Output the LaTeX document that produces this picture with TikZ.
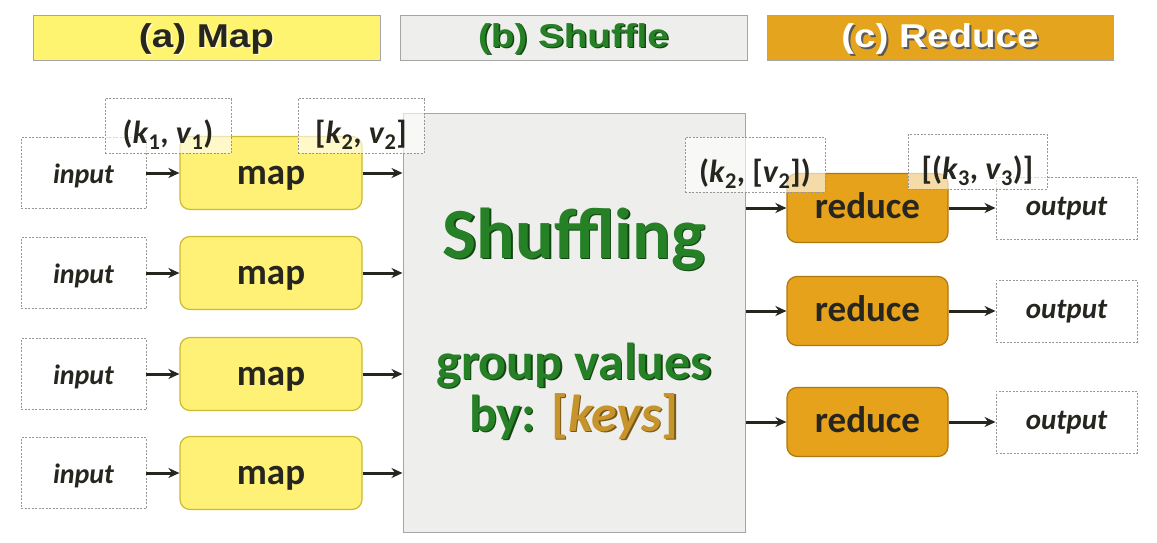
\documentclass[tikz,border=0pt]{standalone}
\usepackage{fontspec}
\setmainfont{Carlito}
\newfontfamily\hdrfont{Liberation Sans}
\usetikzlibrary{arrows.meta}
\definecolor{mapY}{RGB}{255,241,118}
\definecolor{mapB}{RGB}{205,185,50}
\definecolor{hdrY}{RGB}{255,244,112}
\definecolor{redO}{RGB}{230,162,26}
\definecolor{redB}{RGB}{175,120,15}
\definecolor{hdrO}{RGB}{228,164,30}
\definecolor{shufF}{RGB}{238,238,236}
\definecolor{shufB}{RGB}{165,165,165}
\definecolor{grn}{RGB}{38,128,38}
\definecolor{grnD}{RGB}{20,70,20}
\definecolor{gold}{RGB}{198,148,42}
\definecolor{dashB}{RGB}{150,150,150}
\definecolor{txt}{RGB}{38,38,30}
\tikzset{
  hdrbar/.style={draw=shufB, line width=1pt, minimum width=#1, minimum height=45, inner sep=0pt},
  hdrtxt/.style={inner sep=0pt, font=\hdrfont\fontsize{33}{36}\selectfont\bfseries},
  inbox/.style={draw=dashB, dash pattern=on 2pt off 1.5pt, line width=0.9pt, fill=white,
    minimum width=125, minimum height=71, inner sep=0pt, text height=20pt, text depth=0pt,
    font=\fontsize{28}{30}\selectfont\bfseries\itshape, text=txt},
  outbox/.style={inbox, minimum width=141, minimum height=62, text height=14pt,
    font=\fontsize{29}{30}\selectfont\bfseries\itshape},
  mapbox/.style={draw=mapB, fill=mapY, rounded corners=10pt, line width=1.2pt,
    minimum width=182, minimum height=73, inner sep=0pt, text height=23pt, text depth=0pt,
    font=\fontsize{37}{40}\selectfont\bfseries, text=txt},
  redbox/.style={mapbox, draw=redB, fill=redO, minimum width=161, minimum height=69, text height=21pt},
  lbl/.style={draw=dashB, dash pattern=on 2pt off 1.5pt, line width=0.9pt,
    fill=white, fill opacity=0.62, text opacity=1, minimum width=#1, minimum height=55,
    inner sep=0pt, text height=36pt, text depth=0pt,
    font=\fontsize{32}{34}\selectfont\bfseries, text=txt},
  arr/.style={draw=txt, line width=3pt, -{Stealth[length=11pt,width=10pt]}},
  shtxt/.style={inner sep=0pt, anchor=base, font=\fontsize{#1}{#1}\selectfont\bfseries}
}
\begin{document}
\begin{tikzpicture}[x=1pt,y=-1pt]
\useasboundingbox (0,0) rectangle (1157,543);
\fill[white] (0,0) rectangle (1157,543);

% headers
\node[hdrbar=347, fill=hdrY] (ha) at (206.5,38.5) {};
\node[hdrtxt, text=white!80!yellow] (has) at (208,40) {\scalebox{1.17}[1]{(a) Map}};
\node[hdrtxt, text=txt] (hat) at (206.5,38.5) {\scalebox{1.17}[1]{(a) Map}};
\node[hdrbar=347, fill=shufF] (hb) at (573.5,38.5) {};
\node[hdrtxt, text=grnD] (hbs) at (575,40) {\scalebox{1.17}[1]{(b) Shuffle}};
\node[hdrtxt, text=grn] (hbt) at (573.5,38.5) {\scalebox{1.17}[1]{(b) Shuffle}};
\node[hdrbar=346, fill=hdrO] (hc) at (940,38.5) {};
\node[hdrtxt, text=black!65] (hcs) at (942,40.5) {\scalebox{1.17}[1]{(c) Reduce}};
\node[hdrtxt, text=white] (hct) at (940,38.5) {\scalebox{1.17}[1]{(c) Reduce}};

% shuffle box
\node[draw=shufB, fill=shufF, line width=1pt, minimum width=342, minimum height=419, inner sep=0pt] (shuf) at (574,322.5) {};
\node[shtxt=72, text=grnD] (s1s) at (575.5,259.5) {Shuffling};
\node[shtxt=72, text=grn] (s1) at (574,258) {Shuffling};
\node[shtxt=52, text=grnD] (s2s) at (575.5,380.5) {group values};
\node[shtxt=52, text=grn] (s2) at (574,379) {group values};
\node[shtxt=52, text=grnD] (s3s) at (575.5,432.5) {by: \textcolor{gold!60!black}{[\textit{keys}]}};
\node[shtxt=52, text=grn] (s3) at (574,431) {by: \textcolor{gold}{[\textit{keys}]}};

% inputs and maps
\foreach \i/\y in {1/173,2/273,3/374,4/473}{
  \node[inbox] (in\i) at (83.5,\y) {input};
  \node[mapbox] (map\i) at (271,\y) {map};
}
% reduce and outputs
\foreach \i/\y in {1/208,2/311,3/422}{
  \node[redbox] (red\i) at (867.5,\y) {reduce};
  \node[outbox] (out\i) at (1066.5,\y) {output};
}

% labels
\node[lbl=126] (l1) at (168,125.5) {(\textit{k}\textsubscript{1}, \textit{v}\textsubscript{1})};
\node[lbl=126] (l2) at (361,125.5) {[\textit{k}\textsubscript{2}, \textit{v}\textsubscript{2}]};
\node[lbl=140] (l3) at (755,164.5) {(\textit{k}\textsubscript{2}, [\textit{v}\textsubscript{2}])};
\node[lbl=139] (l4) at (977.5,161.5) {[(\textit{k}\textsubscript{3}, \textit{v}\textsubscript{3})]};

% arrows
\foreach \i in {1,2,3,4}{
  \draw[arr] (in\i.east) -- (map\i.west);
  \draw[arr] (map\i.east) -- (map\i.east -| shuf.west);
}
\foreach \i in {1,2,3}{
  \draw[arr] (red\i.west -| shuf.east) -- (red\i.west);
  \draw[arr] (red\i.east) -- (red\i.east -| out\i.west);
}
\end{tikzpicture}
\end{document}
